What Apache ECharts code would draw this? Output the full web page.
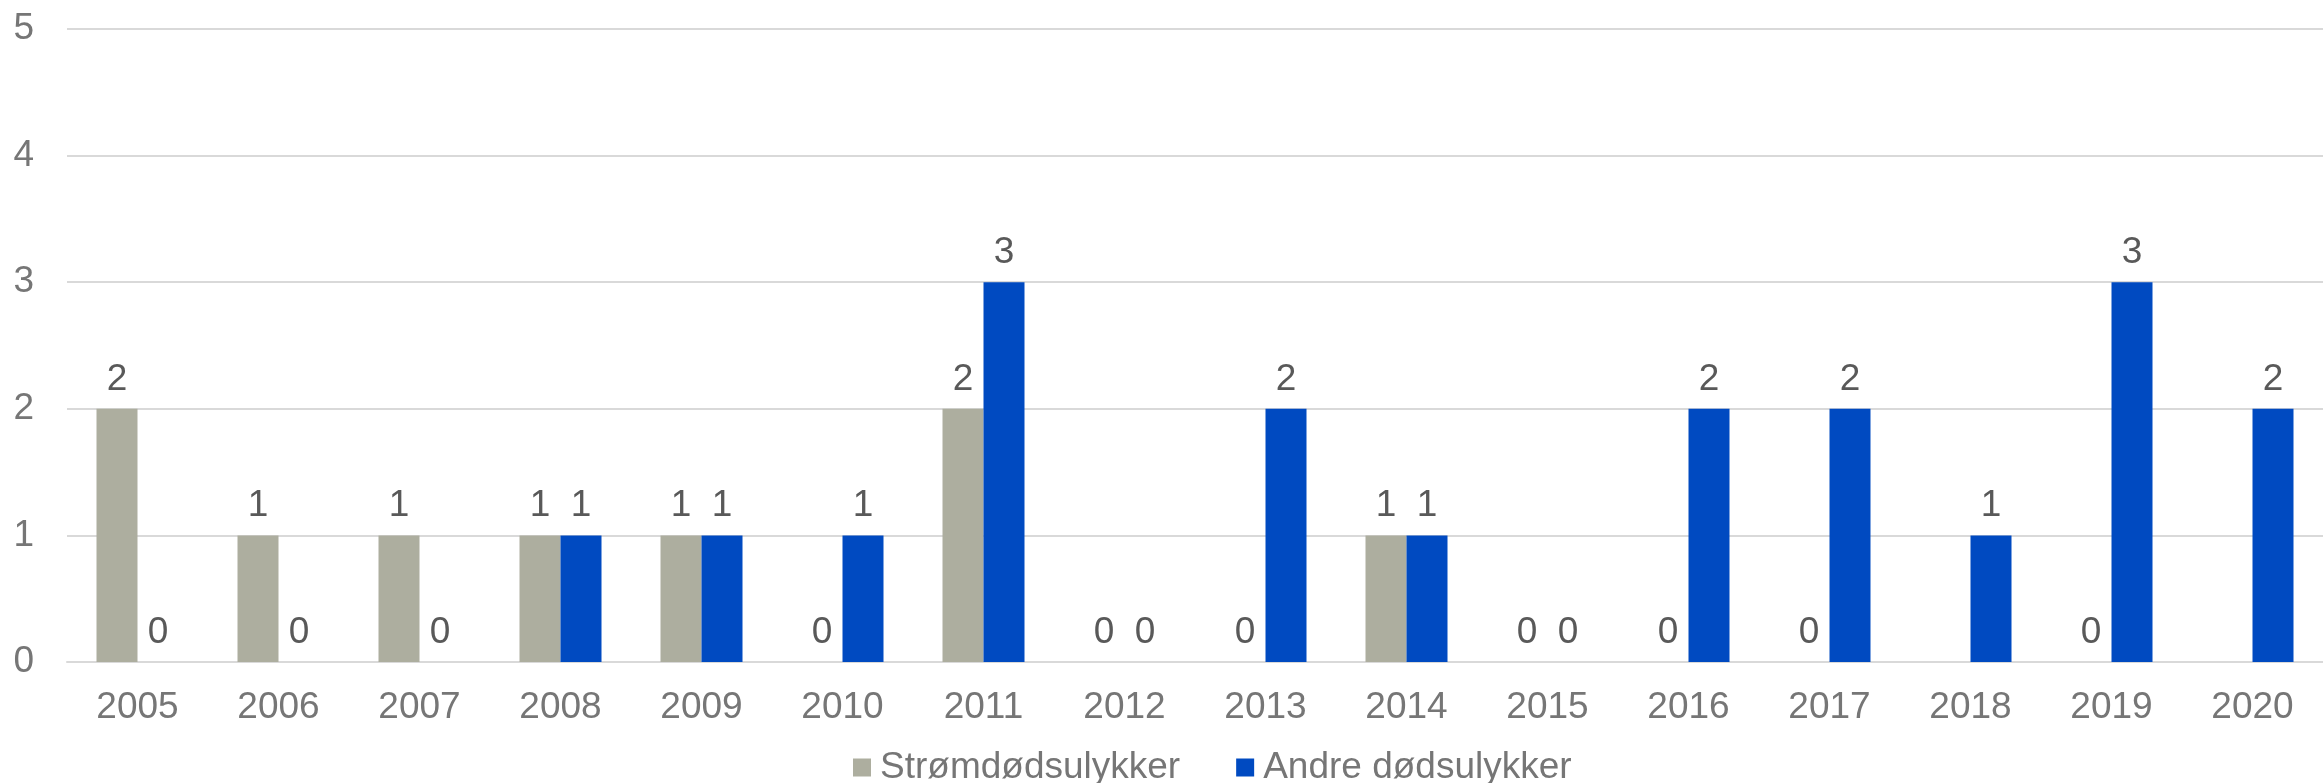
<!DOCTYPE html>
<html>
<head>
<meta charset="utf-8">
<script src="https://cdn.jsdelivr.net/npm/echarts@6/dist/echarts.min.js"></script>
<style>
  html, body { margin: 0; padding: 0; background: #fff; }
  #chart { width: 2323px; height: 783px; }
</style>
</head>
<body>
<div id="chart"></div>
<script>
const years = ['2005', '2006', '2007', '2008', '2009', '2010', '2011', '2012', '2013', '2014', '2015', '2016', '2017', '2018', '2019', '2020'];
// null = no value reported that year
const strom = [2, 1, 1, 1, 1, 0, 2, 0, 0, 1, 0, 0, 0, null, 0, null];
const andre = [0, 0, 0, 1, 1, 1, 3, 0, 2, 1, 0, 2, 2, 1, 3, 2];
const yTicks = [0, 1, 2, 3, 4, 5];

let chart = echarts.init(document.getElementById('chart'));

let fontSize = 37;

let labelStyle = {
    show: true,
    position: 'top',
    distance: 11,
    fontSize: fontSize,
    color: '#595959'
};

let option = {
    animation: false,
    textStyle: { fontFamily: 'Liberation Sans, Arial, sans-serif' },
    grid: { left: 67, right: -21, top: 29, bottom: 121 },
    legend: {
        top: 744,
        left: 848,
        icon: 'rect',
        itemWidth: 18,
        itemHeight: 18,
        itemGap: 56,
        textStyle: { fontSize: fontSize, color: '#767676', padding: [0, 0, 0, 4] },
        data: ['Strømdødsulykker', 'Andre dødsulykker']
    },
    xAxis: {
        type: 'category',
        data: years,
        axisLine: { lineStyle: { color: '#d9d9d9', width: 2 } },
        axisTick: { show: false },
        axisLabel: { fontSize: fontSize, color: '#767676', margin: 27 }
    },
    yAxis: {
        type: 'value',
        min: yTicks[0],
        max: yTicks[yTicks.length - 1],
        interval: 1,
        axisLabel: { fontSize: fontSize, color: '#767676', margin: 33 },
        splitLine: { lineStyle: { color: '#d9d9d9', width: 2 } }
    },
    series: [
        {
            name: 'Strømdødsulykker',
            type: 'bar',
            data: strom,
            barWidth: 41,
            barGap: '0%',
            itemStyle: { color: '#ADAE9F' },
            label: labelStyle
        },
        {
            name: 'Andre dødsulykker',
            type: 'bar',
            data: andre,
            barWidth: 41,
            barGap: '0%',
            itemStyle: { color: '#004AC1' },
            label: labelStyle
        }
    ]
};

chart.setOption(option);
</script>
</body>
</html>
